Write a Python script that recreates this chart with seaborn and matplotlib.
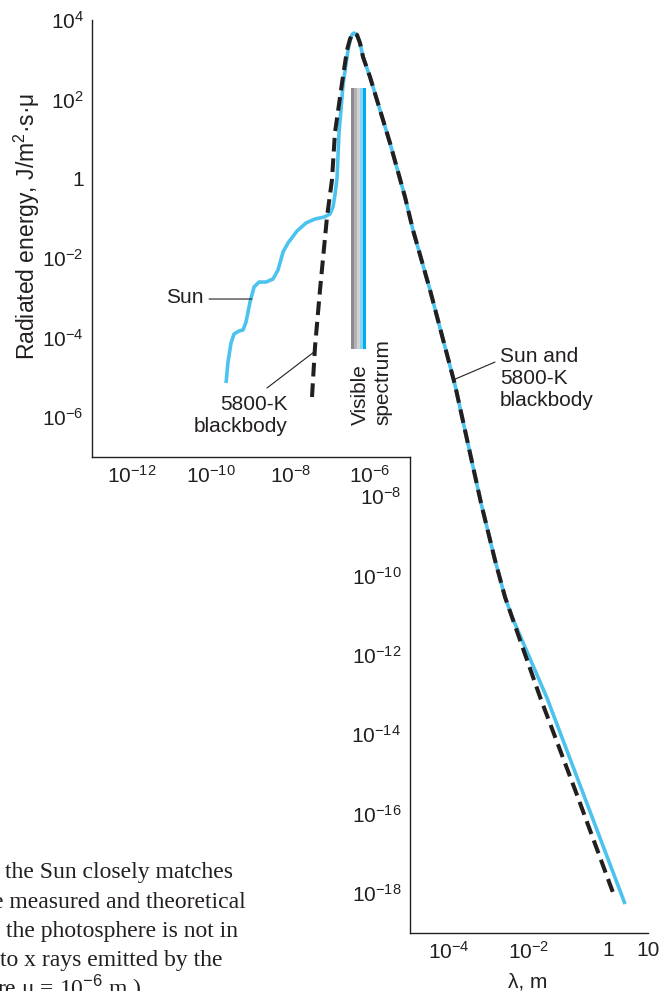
import numpy as np
import matplotlib
matplotlib.use("Agg")
import matplotlib.pyplot as plt
import seaborn as sns

# 5800-K blackbody curve (wavelength in m, energy in J/m^2.s.micron)
bb_wavelength = [3.49e-8, 4.15e-8, 5.55e-8, 8.32e-8, 1.11e-7, 1.32e-7, 1.99e-7, 2.66e-7,
                 3.16e-7, 3.56e-7, 3.99e-7, 4.75e-7, 5.65e-7, 6.73e-7, 1.01e-6, 1.51e-6,
                 3.22e-6, 7.69e-6, 1.22e-5, 3.28e-5, 1.40e-4, 6.32e-4, 1.42e-3, 2.54e-3,
                 6.07e-3, 1.94e-2, 0.166, 1.50]
bb_energy = [3.16e-6, 5.75e-5, 1.58e-3, 0.108, 0.93, 14.2, 258, 1750,
             3300, 4300, 4700, 4200, 2630, 1170, 366, 96.4,
             7.94, 0.346, 0.0511, 1.57e-3, 6.32e-6, 6.73e-9, 2.46e-10, 2.88e-11,
             2.37e-12, 8.69e-14, 2.94e-16, 7.46e-19]

# measured solar spectrum
sun_wavelength = [2.38e-10, 2.67e-10, 3.18e-10, 3.78e-10, 5.05e-10, 6.37e-10, 7.59e-10,
                  9.57e-10, 1.21e-9, 1.61e-9, 2.42e-9, 3.63e-9, 4.85e-9, 6.49e-9, 8.67e-9,
                  1.46e-8, 2.46e-8, 4.15e-8, 7.00e-8, 9.91e-8, 1.18e-7, 1.32e-7, 1.49e-7,
                  1.67e-7, 2.11e-7, 2.82e-7, 3.20e-7, 3.56e-7, 3.99e-7, 4.75e-7, 5.65e-7,
                  6.73e-7, 1.01e-6, 1.51e-6, 3.22e-6, 7.69e-6, 1.22e-5, 3.28e-5, 1.40e-4,
                  6.32e-4, 1.42e-3, 2.54e-3, 3.82e-3, 2.91e-2, 2.69]
sun_energy = [7.11e-6, 2.40e-5, 7.24e-5, 1.22e-4, 1.45e-4, 1.54e-4, 2.45e-4,
              7.82e-4, 1.87e-3, 2.49e-3, 2.49e-3, 2.97e-3, 5.01e-3, 1.42e-2, 2.40e-2,
              4.81e-2, 7.66e-2, 9.66e-2, 0.108, 0.129, 0.194, 0.389, 1.04,
              14.2, 230, 1750, 3100, 4300, 4700, 4200, 2630,
              1170, 366, 96.4, 7.94, 0.346, 0.0511, 1.57e-3, 6.32e-6,
              6.73e-9, 2.46e-10, 2.88e-11, 9.02e-12, 8.18e-14, 5.27e-19]

# visible spectrum band
spectrum_edges = [3.35e-7, 3.99e-7, 4.75e-7, 5.65e-7, 6.53e-7, 8.0e-7]
spectrum_colors = ["#8b8b8d", "#b3b3b5", "#d3d3d5", "#86d4f3", "#00aeef"]
spectrum_range = (5.1e-5, 193)

# tick values
upper_yticks = [1e4, 1e2, 1, 1e-2, 1e-4, 1e-6]
upper_ylabels = ["$10^{4}$", "$10^{2}$", "1", "$10^{-2}$", "$10^{-4}$", "$10^{-6}$"]
upper_yminor = [1e3, 1e1, 1e-1, 1e-3, 1e-5]
upper_xticks = [1e-12, 1e-10, 1e-8, 1e-6]
upper_xlabels = ["$10^{-12}$", "$10^{-10}$", "$10^{-8}$", "$10^{-6}$"]
upper_xminor = [1e-11, 1e-9, 1e-7]
lower_yticks = [1e-8, 1e-10, 1e-12, 1e-14, 1e-16, 1e-18]
lower_ylabels = ["$10^{-8}$", "$10^{-10}$", "$10^{-12}$", "$10^{-14}$", "$10^{-16}$", "$10^{-18}$"]
lower_yminor = [1e-9, 1e-11, 1e-13, 1e-15, 1e-17]
lower_xticks = [1e-4, 1e-2, 1]
lower_xlabels = ["$10^{-4}$", "$10^{-2}$", "1"]
lower_xminor = [1e-3, 1e-1, 10]
lower_xminor_labels = ["", "", "10"]

caption_lines = ["the Sun closely matches", "e measured and theoretical",
                 "the photosphere is not in", "to x rays emitted by the",
                 "re \u03bc = 10$^{\u22126}$ m.)"]

sns.set_style("white")
plt.rcParams["font.family"] = ["Liberation Sans", "DejaVu Sans"]
plt.rcParams["mathtext.fontset"] = "custom"
plt.rcParams["mathtext.rm"] = "Liberation Sans"
plt.rcParams["mathtext.it"] = "Liberation Sans:italic"
plt.rcParams["mathtext.bf"] = "Liberation Sans:bold"

INK = "#231f20"
BLUE = "#4cc3ee"
W, H = 671, 991

fig = plt.figure(figsize=(W / 100, H / 100), dpi=100)
rect = [92 / W, (H - 932.7) / H, (647.7 - 92) / W, (932.7 - 20) / H]
ax = fig.add_axes(rect, label="upper")
ax2 = fig.add_axes(rect, label="lower", facecolor="none")

for a in (ax, ax2):
    a.set_xscale("log")
    a.set_yscale("log")
    a.set_xlim(1e-13, 10)
    a.set_ylim(1e-19, 1e4)
    a.spines[["top", "right"]].set_visible(False)
    for s in ("left", "bottom"):
        a.spines[s].set_color(INK)
        a.spines[s].set_linewidth(1.0)
    a.tick_params(which="both", direction="in", color=INK, labelcolor=INK,
                  labelsize=15, width=0.9, pad=6)
    a.tick_params(which="major", length=10.8)
    a.tick_params(which="minor", length=5.8)

# visible spectrum strips
for i, c in enumerate(spectrum_colors):
    ax.fill_betweenx(list(spectrum_range), spectrum_edges[i], spectrum_edges[i + 1],
                     color=c, lw=0)

sns.lineplot(x=sun_wavelength, y=sun_energy, ax=ax, sort=False, color=BLUE,
             linewidth=2.6, solid_capstyle="butt", solid_joinstyle="round")
sns.lineplot(x=bb_wavelength, y=bb_energy, ax=ax, sort=False, color=INK,
             linewidth=2.9, linestyle=(0, (3.4, 1.7)), dash_capstyle="butt")

# upper-left axis frame
ax.spines["left"].set_bounds(1e-7, 1e4)
ax.spines["bottom"].set_position(("data", 1e-7))
ax.spines["bottom"].set_bounds(1e-13, 1e-5)
ax.set_yticks(upper_yticks, upper_ylabels)
ax.set_yticks(upper_yminor, [""] * len(upper_yminor), minor=True)
ax.set_xticks(upper_xticks, upper_xlabels)
ax.set_xticks(upper_xminor, [""] * len(upper_xminor), minor=True)
ax.set_xlabel("")
ax.set_ylabel("")

# lower-right axis frame
ax2.spines["left"].set_position(("data", 1e-5))
ax2.spines["left"].set_bounds(1e-19, 1e-7)
ax2.spines["bottom"].set_bounds(1e-5, 10)
ax2.set_yticks(lower_yticks, lower_ylabels)
ax2.set_yticks(lower_yminor, [""] * len(lower_yminor), minor=True)
ax2.set_xticks(lower_xticks, lower_xlabels)
ax2.set_xticks(lower_xminor, lower_xminor_labels, minor=True)

# annotations
lbl = dict(fontsize=15, color=INK)
lead = dict(arrowstyle="-", lw=0.8, color=INK, shrinkA=0, shrinkB=0)
ax.text(6.3e-11, 1.04e-3, "Sun", ha="right", va="center", **lbl)
ax.annotate("", xy=(1.07e-9, 9.3e-4), xytext=(8.9e-11, 9.3e-4), arrowprops=lead)
ax.text(8.67e-9, 1.11e-6, "5800-K\nblackbody", ha="right", va="center",
        multialignment="right", **lbl)
ax.annotate("", xy=(3.92e-8, 4.30e-5), xytext=(2.56e-9, 5.32e-6), arrowprops=lead)
ax.text(1.10e-6, 6.21e-7, "Visible\nspectrum", rotation=90, ha="center", va="bottom",
        multialignment="left", **lbl)
ax.text(1.90e-3, 5.74e-5, "Sun and\n5800-K\nblackbody", ha="left", va="top", **lbl)
ax.annotate("", xy=(1.24e-4, 8.45e-6), xytext=(1.42e-3, 2.40e-5), arrowprops=lead)

fig.text(27 / W, 1 - 226 / H, "Radiated energy, J/m$^{2}$\u00b7s\u00b7\u03bc",
         rotation=90, ha="center", va="center", fontsize=16.5, color=INK)
fig.text(528 / W, 1 - 982 / H, "\u03bb, m", ha="center", va="center", **lbl)

# cropped caption from the page
cap_x = [5, -7, 6, 0, -3]
cap_y = [878, 908, 937, 966, 996]
for t, x, y in zip(caption_lines, cap_x, cap_y):
    fig.text(x / W, 1 - y / H, t, ha="left", va="baseline", fontsize=17,
             family="Liberation Serif", color=INK)

fig.savefig("out.png", dpi=100)
